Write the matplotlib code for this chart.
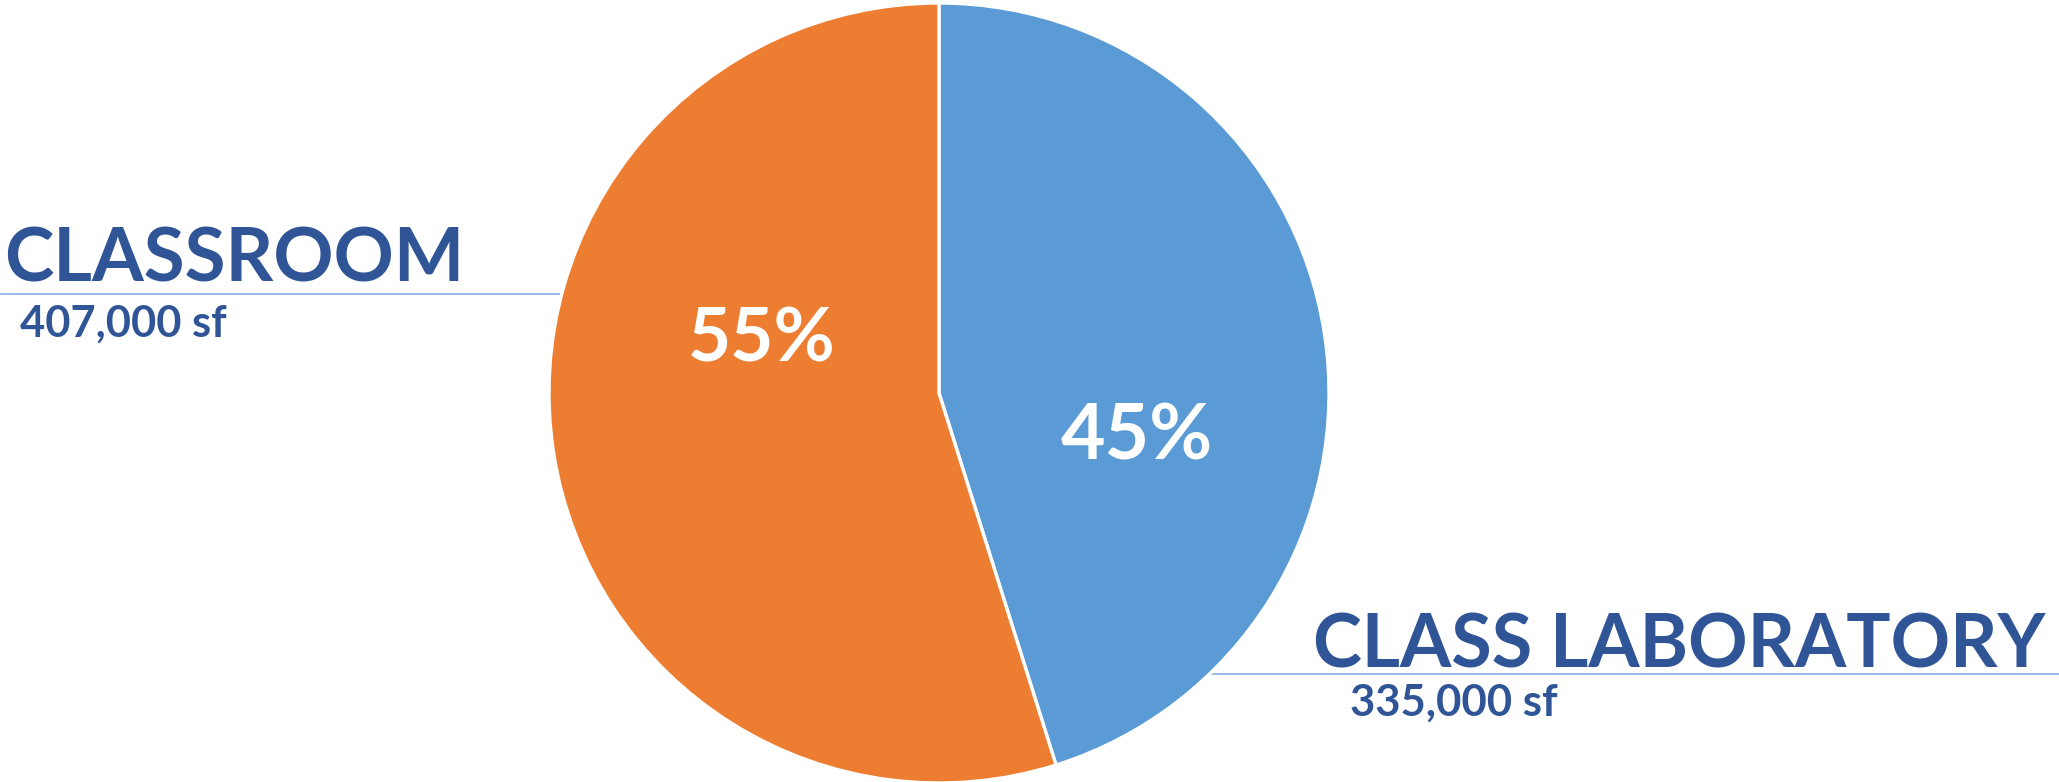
import matplotlib
matplotlib.use("Agg")
import matplotlib.pyplot as plt
from matplotlib.lines import Line2D

# ---- data ----
categories = ["CLASS LABORATORY", "CLASSROOM"]
area_sf = [335000, 407000]
area_labels = ["335,000 sf", "407,000 sf"]
pct_labels = ["45%", "55%"]
colors = ["#5B9BD5", "#ED7D31"]

W, H = 2059, 782
DPI = 100
FONT = ["Lato", "DejaVu Sans"]
TXT = "#2F5597"
LINE = "#7DAADD"

fig = plt.figure(figsize=(W / DPI, H / DPI), dpi=DPI)
fig.patch.set_facecolor("white")

# pie geometry in pixels
cx, cy, r = 939, 393, 390
ax = fig.add_axes([(cx - r) / W, (H - cy - r) / H, 2 * r / W, 2 * r / H])
ax.set_zorder(1)
wedges, _ = ax.pie(area_sf, colors=colors, startangle=90, counterclock=False,
                   radius=1.0, wedgeprops=dict(edgecolor="white", linewidth=2.4))
ax.set_xlim(-1, 1)
ax.set_ylim(-1, 1)
ax.set_aspect("equal")
ax.axis("off")

renderer = fig.canvas.get_renderer()

def fit(t, target_w, k=1.0):
    fs = t.get_fontsize()
    w = t.get_window_extent(renderer).width
    t.set_fontsize(k * fs * target_w / w)

# percent labels inside wedges (positions in pie data units)
pct_pos = [((1137 - cx) / r, (cy - 438) / r), ((762 - cx) / r, (cy - 340) / r)]
pct_w = [145, 141]
for lab, (px, py), tw in zip(pct_labels, pct_pos, pct_w):
    t = ax.text(px, py, lab, ha="center", va="center", color="white",
                fontsize=50, fontweight="bold", family=FONT)
    fit(t, tw, 1.05)

# leader lines (behind pie)
fig.add_artist(Line2D([1 / W, cx / W], [1 - 294 / H, 1 - 294 / H],
                      color=LINE, lw=1.1, zorder=0, transform=fig.transFigure))
fig.add_artist(Line2D([cx / W, 1.0], [1 - 674 / H, 1 - 674 / H],
                      color=LINE, lw=1.1, zorder=0, transform=fig.transFigure))

# category labels: (text, x, baseline y, target width, ha)
specs = [
    (categories[1], 4, 281, 442, "left"),
    (area_labels[1], 20, 337, 198, "left"),
    (categories[0], 2045, 668, 704, "right"),
    (area_labels[0], 1350, 716, 200, "left"),
]
for s, x, y, tw, ha in specs:
    t = fig.text(x / W, 1 - y / H, s, ha=ha, va="baseline", color=TXT,
                 fontsize=40, fontweight="bold", family=FONT, zorder=3)
    fit(t, tw, 1.04)

fig.savefig("out.png", dpi=DPI, facecolor="white")
